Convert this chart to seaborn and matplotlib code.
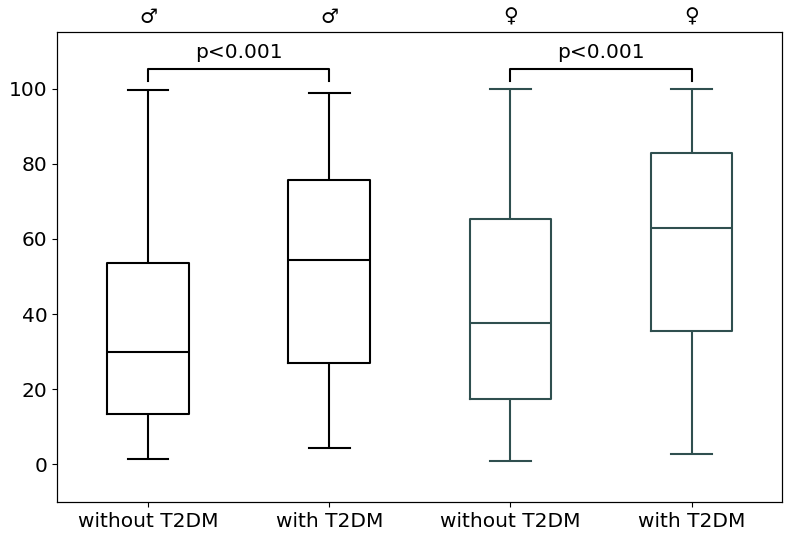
import numpy as np
import pandas as pd
import matplotlib
matplotlib.use("Agg")
import matplotlib.pyplot as plt
import seaborn as sns

##### Data (five-number summaries)

groups = ["m_without", "m_with", "f_without", "f_with"]
tick_labels = ["without T2DM", "with T2DM", "without T2DM", "with T2DM"]
sex_labels = ["\u2642", "\u2642", "\u2640", "\u2640"]
sex = ["male", "male", "female", "female"]

whisker_low = [1.3, 4.3, 0.8, 2.7]
q1 = [13.3, 26.9, 17.3, 35.4]
median = [30.0, 54.5, 37.5, 62.8]
q3 = [53.7, 75.8, 65.2, 83.0]
whisker_high = [99.6, 98.9, 100.0, 100.0]

pvalues = ["p<0.001", "p<0.001"]
pairs = [(0, 1), (2, 3)]

colors = {"male": "black", "female": "#2F4F4F"}

rows = []
for i, g in enumerate(groups):
    for v in [whisker_low[i], q1[i], median[i], q3[i], whisker_high[i]]:
        rows.append({"group": g, "sex": sex[i], "value": v})
df = pd.DataFrame(rows)

##### Plot

plt.rcParams["font.size"] = 14.5

fig, ax = plt.subplots(figsize=(7.87, 5.38), dpi=100)

for s in ["male", "female"]:
    sns.boxplot(data=df[df["sex"] == s], x="group", y="value", order=groups,
                fill=False, color=colors[s], width=0.45, whis=np.inf,
                linewidth=1.5, ax=ax)

ax.set_xlim(-0.5, 3.5)
ax.set_ylim(-10, 115)
ax.set_yticks([0, 20, 40, 60, 80, 100])
ax.set_xticks(range(4))
ax.set_xticklabels(tick_labels)
ax.set_xlabel("")
ax.set_ylabel("")

# significance brackets
for (a, b), p in zip(pairs, pvalues):
    ax.plot([a, a, b, b], [102.1, 105.3, 105.3, 102.1], color="black", lw=1.5)
    ax.text((a + b) / 2, 107.2, p, ha="center", va="bottom")

# sex symbols on top
top = ax.twiny()
top.set_xlim(ax.get_xlim())
top.set_xticks(range(4))
top.set_xticklabels(sex_labels)
top.tick_params(axis="x", length=0, pad=4)

fig.subplots_adjust(left=0.073, right=0.994, top=0.94, bottom=0.067)
fig.savefig("out.png", dpi=100)
